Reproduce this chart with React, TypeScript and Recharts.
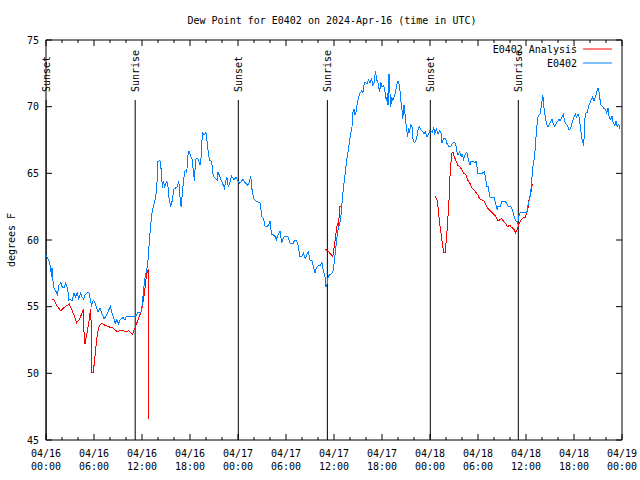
import React from "react";
import {
  LineChart,
  Line,
  XAxis,
  YAxis,
  ReferenceLine,
  ReferenceArea,
} from "recharts";

const FONT = "'DejaVu Sans Mono', monospace";
const RED = "#ff0000";
const BLUE = "#0080ff";

// x is hours since 2024-04-16 00:00 UTC
const xTicks = [0, 2, 4, 6, 8, 10, 12, 14, 16, 18, 20, 22, 24, 26, 28, 30, 32, 34, 36, 38, 40, 42, 44, 46, 48, 50, 52, 54, 56, 58, 60, 62, 64, 66, 68, 70, 72];
const yTicks = [45, 50, 55, 60, 65, 70, 75];
const dateLabels = ["04/16", "04/16", "04/16", "04/16", "04/17", "04/17", "04/17", "04/17", "04/18", "04/18", "04/18", "04/18", "04/19"];
const timeLabels = ["00:00", "06:00", "12:00", "18:00", "00:00", "06:00", "12:00", "18:00", "00:00", "06:00", "12:00", "18:00", "00:00"];

const sunEvents: [number, string][] = [
  [0.02, "Sunset"],
  [11.15, "Sunrise"],
  [24.04, "Sunset"],
  [35.17, "Sunrise"],
  [48.04, "Sunset"],
  [59.04, "Sunrise"],
];

// observed dew point (E0402), [hour, degF]
const obsDay1: [number, number][] = [
  [0.0, 58.9], [0.4, 58.4], [0.55, 58.0], [0.7, 57.2], [0.75, 57.9], [0.85, 57.0], [1.0, 56.4], [1.2, 56.2],
  [1.45, 55.9], [1.6, 56.6], [1.85, 56.8], [2.0, 56.5], [2.25, 56.4], [2.45, 56.75], [2.7, 56.4], [2.85, 55.5],
  [3.1, 55.55], [3.25, 55.4], [3.5, 56.0], [3.7, 55.75], [3.9, 56.05], [4.1, 55.6], [4.3, 56.0], [4.5, 55.75],
  [4.7, 55.55], [4.9, 55.9], [5.15, 56.05], [5.35, 56.1], [5.55, 55.5], [5.7, 55.1], [5.9, 55.45], [6.05, 55.4],
  [6.35, 54.9], [6.5, 54.6], [6.75, 54.9], [6.95, 54.55], [7.25, 54.1], [7.4, 54.2], [7.6, 54.4], [7.85, 54.75],
  [8.05, 55.0], [8.25, 54.5], [8.5, 54.1], [8.65, 53.75], [8.85, 54.0], [9.05, 53.7], [9.25, 54.0], [9.45, 54.1],
  [9.65, 54.2], [9.85, 54.0], [10.05, 54.3], [11.2, 54.3], [11.5, 54.55], [11.9, 54.6], [12.05, 55.3], [12.2, 56.3],
  [12.35, 57.1], [12.5, 57.5], [12.7, 58.1], [12.9, 59.75], [13.1, 61.25], [13.25, 62.0], [13.4, 62.45], [13.6, 62.9],
  [13.83, 63.75], [14.0, 65.9], [14.25, 65.95], [14.4, 65.25], [14.55, 63.9], [14.67, 64.4], [14.83, 64.0], [15.1, 64.4],
  [15.25, 64.0], [15.4, 63.0], [15.6, 62.55], [15.8, 63.0], [15.96, 63.8], [16.17, 63.9], [16.4, 64.0], [16.6, 64.4],
  [16.75, 63.25], [16.9, 62.45], [17.0, 63.25], [17.2, 64.5], [17.4, 65.25], [17.6, 65.05], [17.7, 66.25], [17.9, 66.7],
  [18.05, 66.3], [18.25, 66.05], [18.4, 65.25], [18.55, 64.45], [18.7, 66.05], [18.85, 66.1], [19.05, 66.05], [19.25, 65.6],
  [19.4, 66.25], [19.5, 67.5], [19.6, 68.0], [19.8, 67.9], [20.0, 68.05], [20.1, 67.6], [20.3, 66.5], [20.45, 66.0],
  [20.7, 65.9], [20.9, 64.8], [21.2, 64.6], [21.4, 64.5], [21.5, 65.1], [21.96, 64.4], [22.3, 63.9], [22.6, 64.75],
  [22.8, 63.95], [23.2, 64.8], [23.5, 64.5], [23.75, 64.7], [24.0, 64.4],
];

const obsDay2: [number, number][] = [
  [24.25, 64.25], [24.6, 64.55], [24.9, 64.3], [25.2, 64.1], [25.4, 64.3], [25.6, 64.8], [25.7, 64.1], [25.8, 63.5],
  [26.0, 63.1], [26.25, 62.9], [26.5, 62.85], [26.8, 62.75], [26.96, 61.75], [27.2, 61.6], [27.4, 61.0], [27.6, 61.0],
  [27.8, 61.1], [28.0, 61.4], [28.1, 60.9], [28.2, 60.4], [28.4, 60.4], [28.6, 60.3], [28.8, 60.05], [29.0, 60.4],
  [29.25, 60.7], [29.46, 59.8], [29.7, 60.2], [29.9, 60.3], [30.1, 60.3], [30.3, 60.2], [30.5, 59.75], [30.9, 59.75],
  [31.1, 60.0], [31.3, 60.0], [31.5, 59.6], [31.75, 58.75], [31.96, 58.75], [32.2, 59.0], [32.4, 58.6], [32.6, 58.9],
  [32.8, 59.1], [33.0, 58.5], [33.2, 58.5], [33.4, 58.1], [33.6, 57.5], [33.8, 57.9], [34.0, 58.05], [34.3, 58.1],
  [34.5, 58.3], [34.7, 57.6], [34.9, 57.2], [35.0, 56.5], [35.1, 56.6], [35.3, 57.3], [35.6, 57.45], [35.85, 57.6],
  [36.0, 58.2], [36.2, 59.25], [36.33, 60.0], [36.5, 60.75], [36.7, 61.25], [36.83, 61.5], [36.96, 62.5], [37.1, 63.5],
  [37.25, 64.25], [37.4, 65.0], [37.58, 66.0], [37.75, 66.6], [37.9, 67.25], [38.08, 67.9], [38.25, 68.5], [38.4, 69.75],
  [38.5, 69.8], [38.6, 69.35], [38.75, 69.6], [38.9, 70.25], [39.1, 70.75], [39.25, 71.0], [39.5, 71.2], [39.6, 71.0],
  [39.75, 71.6], [39.9, 71.85], [40.1, 71.7], [40.3, 72.0], [40.5, 71.8], [40.7, 72.1], [40.83, 71.6], [41.0, 71.75],
  [41.2, 72.7], [41.3, 72.1], [41.5, 71.75], [41.7, 71.1], [41.85, 71.85], [42.0, 71.5], [42.2, 71.6], [42.3, 71.4],
  [42.4, 71.0], [42.54, 70.4], [42.7, 71.0], [42.75, 70.1], [42.875, 72.45], [43.0, 71.0], [43.1, 70.0], [43.2, 70.75],
  [43.33, 70.4], [43.5, 70.75], [43.7, 71.1], [43.8, 71.5], [44.0, 71.95], [44.2, 71.5], [44.35, 70.5], [44.5, 69.75],
  [44.6, 69.1], [44.75, 70.1], [44.9, 69.3], [45.04, 68.5], [45.2, 67.7], [45.3, 68.4], [45.4, 68.0], [45.58, 68.6],
  [45.75, 68.5], [45.9, 67.4], [46.1, 67.3], [46.33, 67.6], [46.5, 68.25], [46.67, 68.5], [46.83, 68.3], [47.1, 68.1],
  [47.25, 67.95], [47.4, 68.1], [47.6, 67.75], [47.8, 67.9], [48.0, 68.25],
];

const obsDay3: [number, number][] = [
  [48.3, 68.1], [48.45, 68.45], [48.6, 68.0], [48.8, 68.3], [49.0, 67.95], [49.2, 68.2], [49.4, 68.0], [49.5, 67.3],
  [49.7, 67.6], [49.96, 67.6], [50.1, 67.25], [50.4, 67.0], [50.6, 67.05], [50.9, 67.3], [51.1, 67.3], [51.25, 67.05],
  [51.4, 66.5], [51.5, 66.4], [51.7, 66.6], [51.9, 66.25], [52.0, 66.45], [52.2, 66.05], [52.4, 66.4], [52.6, 66.6],
  [52.8, 66.0], [53.0, 65.6], [53.1, 65.9], [53.4, 65.9], [53.6, 65.8], [53.8, 65.9], [53.96, 65.0], [54.25, 65.0],
  [54.5, 65.0], [54.8, 65.1], [54.96, 64.6], [55.1, 64.0], [55.3, 64.0], [55.4, 63.5], [55.5, 63.2], [56.0, 63.2],
  [56.2, 62.75], [56.4, 62.25], [56.5, 62.55], [56.8, 62.55], [56.96, 62.9], [57.4, 62.9], [57.6, 62.75], [57.8, 62.5],
  [58.1, 62.5], [58.3, 62.25], [58.45, 61.9], [58.6, 61.6], [58.8, 61.4], [58.95, 61.25], [59.1, 61.8], [59.3, 62.1],
  [59.7, 62.1], [60.1, 62.1], [60.3, 62.75], [60.5, 63.25], [60.7, 64.1], [60.8, 65.25], [61.0, 66.0], [61.2, 67.1],
  [61.3, 68.25], [61.5, 69.2], [61.67, 69.4], [61.8, 69.5], [62.0, 70.45], [62.1, 70.9], [62.25, 69.9], [62.4, 69.25],
  [62.5, 68.95], [62.67, 68.55], [62.8, 68.55], [63.0, 68.75], [63.25, 69.05], [63.4, 68.7], [63.6, 68.5], [63.8, 68.75],
  [64.1, 69.05], [64.25, 68.95], [64.5, 69.25], [64.7, 69.45], [64.8, 68.9], [65.0, 68.7], [65.25, 68.5], [65.4, 68.25],
  [65.6, 68.4], [65.75, 68.75], [66.0, 69.2], [66.2, 69.45], [66.3, 69.2], [66.5, 69.45], [66.7, 69.05], [66.83, 68.25],
  [67.0, 67.6], [67.1, 67.4], [67.2, 67.05], [67.3, 68.0], [67.4, 69.5], [67.7, 69.6], [67.8, 70.0], [68.0, 70.3],
  [68.2, 70.6], [68.3, 70.7], [68.5, 70.45], [68.7, 70.8], [68.8, 71.0], [69.0, 71.4], [69.2, 70.9], [69.3, 70.2],
  [69.5, 70.05], [69.7, 69.9], [69.9, 69.8], [70.1, 69.5], [70.25, 69.9], [70.4, 69.2], [70.6, 69.05], [70.75, 69.3],
  [70.9, 68.8], [71.1, 68.6], [71.25, 68.9], [71.4, 68.5], [71.6, 68.7], [71.75, 68.3],
];

// analysis dew point, three separate runs
const analysisRun1: [number, number][] = [
  [0.79, 55.55], [1.0, 55.5], [1.33, 55.1], [1.83, 54.7], [2.4, 55.0], [2.9, 55.2], [3.25, 54.75], [3.54, 54.3],
  [3.83, 53.8], [4.17, 54.05], [4.46, 54.45], [4.67, 54.8], [4.79, 52.25], [4.9, 52.25], [5.08, 52.9], [5.33, 53.7],
  [5.5, 54.55], [5.6, 54.8], [5.75, 50.05], [5.875, 50.05], [6.04, 50.75], [6.25, 52.05], [6.42, 53.0], [6.67, 53.6],
  [6.96, 53.75], [7.375, 53.6], [7.79, 53.5], [8.08, 53.45], [8.4, 53.4], [8.75, 53.2], [8.92, 53.1], [9.25, 53.2],
  [9.67, 53.2], [10.0, 53.1], [10.3, 53.2], [10.58, 53.05], [10.83, 52.95], [11.15, 53.45], [11.5, 54.0], [11.96, 54.75],
  [12.3, 56.0], [12.58, 57.5], [12.8, 57.8], [12.84, 46.6],
];

const analysisRun2: [number, number][] = [
  [34.9, 59.3], [35.2, 59.2], [35.5, 59.0], [35.85, 58.75], [36.05, 59.6], [36.2, 60.25], [36.33, 60.9], [36.45, 61.25],
  [36.55, 61.0], [36.67, 62.0], [36.75, 62.5], [36.85, 62.5],
];

const analysisRun3: [number, number][] = [
  [48.6, 63.3], [48.9, 63.0], [49.04, 62.25], [49.2, 61.25], [49.4, 60.4], [49.54, 59.75], [49.7, 59.05], [49.9, 59.05],
  [50.0, 59.75], [50.2, 61.25], [50.4, 63.25], [50.5, 64.75], [50.7, 66.5], [50.9, 66.55], [51.0, 66.3], [51.2, 66.0],
  [51.5, 65.6], [51.7, 65.5], [52.0, 65.25], [52.2, 65.0], [52.5, 64.9], [52.7, 64.5], [53.0, 64.25], [53.2, 63.95],
  [53.5, 63.75], [53.7, 63.6], [53.96, 63.4], [54.2, 63.1], [54.5, 63.0], [54.7, 62.95], [54.96, 62.7], [55.2, 62.4],
  [55.5, 62.2], [55.7, 62.1], [55.96, 61.95], [56.2, 61.8], [56.5, 61.45], [56.7, 61.5], [56.96, 61.6], [57.2, 61.4],
  [57.5, 61.2], [57.7, 61.0], [57.96, 61.1], [58.2, 60.95], [58.5, 60.8], [58.7, 60.55], [58.9, 60.75], [59.1, 61.2],
  [59.4, 61.5], [59.7, 61.7], [59.9, 61.7], [60.1, 62.05], [60.3, 62.5], [60.4, 63.1], [60.6, 63.5], [60.75, 64.05],
  [60.8, 64.2],
];

const toRows = (pts: [number, number][]) => pts.map(([h, v]) => ({ h, v }));

const obsData = toRows([...obsDay1, ...obsDay2, ...obsDay3]);
// a null row between runs breaks the line
const analysisData = [analysisRun1, analysisRun2, analysisRun3].flatMap((run) => [
  ...toRows(run),
  { h: run[run.length - 1][0] + 0.01, v: null as number | null },
]);

const PLOT_TOP = 40;
const PLOT_BOTTOM = 440;
const PLOT_LEFT = 46;
const PLOT_RIGHT = 622;

const HourTick = ({ x, payload }: any) => {
  const h = payload.value as number;
  const major = h % 6 === 0;
  const len = major ? 6 : 3;
  const i = h / 6;
  return (
    <g>
      <line x1={x} x2={x} y1={PLOT_BOTTOM} y2={PLOT_BOTTOM - len} stroke="#000" />
      <line x1={x} x2={x} y1={PLOT_TOP} y2={PLOT_TOP + len} stroke="#000" />
      {major && (
        <text fontFamily={FONT} fontSize={10} fill="#000" textAnchor="middle">
          <tspan x={x} y={PLOT_BOTTOM + 17}>{dateLabels[i]}</tspan>
          <tspan x={x} y={PLOT_BOTTOM + 30}>{timeLabels[i]}</tspan>
        </text>
      )}
    </g>
  );
};

const DegTick = ({ y, payload }: any) => (
  <g>
    <line x1={PLOT_LEFT} x2={PLOT_LEFT + 6} y1={y} y2={y} stroke="#000" />
    <line x1={PLOT_RIGHT} x2={PLOT_RIGHT - 6} y1={y} y2={y} stroke="#000" />
    <text x={39} y={y + 3.5} fontFamily={FONT} fontSize={10} fill="#000" textAnchor="end">
      {payload.value}
    </text>
  </g>
);

const SunLabel = ({ viewBox, text }: any) => {
  const tx = viewBox.x + 4;
  const ty = viewBox.y - 8;
  return (
    <text
      x={tx}
      y={ty}
      transform={`rotate(-90, ${tx}, ${ty})`}
      fontFamily={FONT}
      fontSize={10}
      fill="#000"
      textAnchor="start"
    >
      {text}
    </text>
  );
};

const legendItems = [
  { name: "E0402 Analysis", color: RED },
  { name: "E0402", color: BLUE },
];

export default function App() {
  return (
    <div style={{ position: "absolute", left: 0, top: 0, width: 640, height: 480, background: "#fff" }}>
      <style>{".recharts-line-curve{shape-rendering:crispEdges}"}</style>
      <LineChart width={640} height={480} margin={{ top: 40, right: 18, left: 0, bottom: 0 }}>
        <XAxis
          dataKey="h"
          type="number"
          domain={[0, 72]}
          ticks={xTicks}
          interval={0}
          allowDataOverflow
          height={40}
          tickSize={0}
          tickMargin={0}
          tickLine={false}
          axisLine={false}
          tick={<HourTick />}
        />
        <YAxis
          type="number"
          domain={[45, 75]}
          ticks={yTicks}
          interval={0}
          allowDataOverflow
          width={46}
          tickSize={0}
          tickMargin={0}
          tickLine={false}
          axisLine={false}
          tick={<DegTick />}
        />
        <ReferenceArea x1={0} x2={72} y1={45} y2={75} fill="none" fillOpacity={0} stroke="#000" strokeWidth={1} />
        {sunEvents.map(([h, text]) => (
          <ReferenceLine
            key={h}
            segment={[{ x: h, y: 45 }, { x: h, y: 70.5 }]}
            stroke="#000"
            strokeWidth={1}
            label={<SunLabel text={text} />}
          />
        ))}
        <Line
          data={analysisData}
          dataKey="v"
          name="E0402 Analysis"
          type="linear"
          stroke={RED}
          strokeWidth={1}
          dot={false}
          connectNulls={false}
          isAnimationActive={false}
        />
        <Line
          data={obsData}
          dataKey="v"
          name="E0402"
          type="linear"
          stroke={BLUE}
          strokeWidth={1}
          dot={false}
          isAnimationActive={false}
        />
      </LineChart>
      <svg
        width={640}
        height={480}
        style={{ position: "absolute", left: 0, top: 0, pointerEvents: "none" }}
        fontFamily={FONT}
        fontSize={10}
      >
        <text x={332} y={23.5} textAnchor="middle" fill="#000">
          Dew Point for E0402 on 2024-Apr-16 (time in UTC)
        </text>
        <text x={15} y={240} textAnchor="middle" fill="#000" transform="rotate(-90, 15, 240)">
          degrees F
        </text>
        {legendItems.map((item, i) => (
          <g key={item.name}>
            <text x={577} y={52.5 + i * 14} textAnchor="end" fill="#000">
              {item.name}
            </text>
            <line x1={583} x2={612} y1={49 + i * 14} y2={49 + i * 14} stroke={item.color} />
          </g>
        ))}
      </svg>
    </div>
  );
}
